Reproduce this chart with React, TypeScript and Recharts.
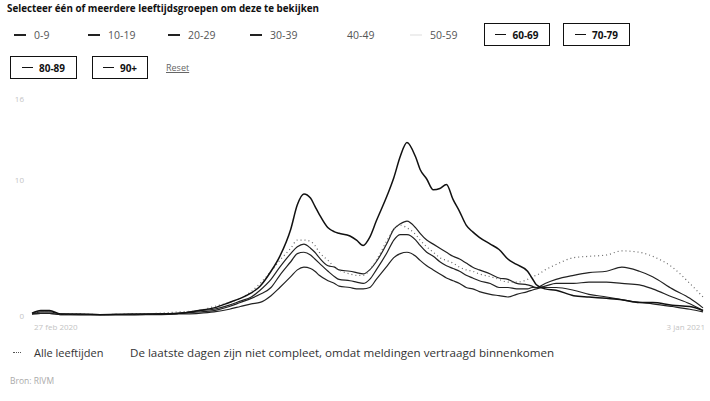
import React from 'react';
import { LineChart, Line, XAxis, YAxis } from 'recharts';

// dagen sinds begin van de reeks
const days = [0, 4, 8, 13, 22, 31, 45, 58, 67, 76, 83, 90, 95, 100, 104, 109, 113, 118, 121, 124, 127, 129, 131, 135, 138, 140, 145, 148, 151, 154, 157, 162, 165, 168, 171, 175, 177, 180, 183, 186, 189, 192, 195, 198, 201, 204, 209, 213, 217, 221, 226, 228, 230, 234, 239, 247, 254, 262, 269, 277, 283, 292, 300, 306];

const age90 = [0.2, 0.4, 0.4, 0.15, 0.15, 0.1, 0.15, 0.15, 0.2, 0.4, 0.6, 1.0, 1.3, 1.7, 2.2, 3.3, 4.4, 6.4, 8.2, 9.0, 8.7, 8.1, 7.5, 6.5, 6.2, 6.1, 5.9, 5.6, 5.2, 5.8, 7.0, 8.9, 10.2, 11.8, 12.8, 11.7, 10.8, 10.1, 9.3, 9.4, 9.7, 8.6, 7.7, 6.7, 6.2, 5.8, 5.3, 4.9, 4.2, 3.8, 3.3, 2.8, 2.3, 2.0, 1.9, 1.5, 1.4, 1.3, 1.2, 1.0, 1.0, 0.8, 0.7, 0.4];
const allAges = [0.2, 0.3, 0.3, 0.15, 0.15, 0.1, 0.15, 0.2, 0.3, 0.4, 0.7, 1.0, 1.3, 1.8, 2.4, 3.3, 4.1, 5.0, 5.6, 5.6, 5.5, 5.2, 4.7, 4.1, 3.6, 3.4, 3.1, 3.0, 3.0, 3.4, 4.1, 5.6, 6.4, 6.7, 6.5, 6.0, 5.6, 5.1, 4.7, 4.3, 4.1, 3.9, 3.6, 3.4, 3.3, 3.1, 2.9, 2.7, 2.5, 2.5, 2.7, 2.9, 3.0, 3.4, 3.8, 4.3, 4.4, 4.5, 4.8, 4.7, 4.4, 3.6, 2.4, 1.4];
const age80 = [0.15, 0.3, 0.3, 0.15, 0.1, 0.1, 0.1, 0.15, 0.2, 0.4, 0.5, 0.8, 1.1, 1.4, 1.9, 2.7, 3.6, 4.6, 5.1, 5.3, 5.0, 4.7, 4.3, 3.7, 3.6, 3.4, 3.3, 3.2, 3.1, 3.4, 4.0, 5.4, 6.4, 6.8, 7.0, 6.5, 6.1, 5.6, 5.3, 5.0, 4.7, 4.4, 4.2, 3.9, 3.6, 3.4, 3.1, 2.8, 2.7, 2.4, 2.3, 2.2, 2.1, 2.4, 2.7, 3.0, 3.2, 3.3, 3.6, 3.3, 2.9, 2.0, 1.3, 0.6];
const age70 = [0.15, 0.2, 0.2, 0.1, 0.1, 0.1, 0.1, 0.15, 0.2, 0.3, 0.4, 0.7, 1.0, 1.3, 1.6, 2.1, 3.0, 4.0, 4.6, 4.7, 4.5, 4.2, 3.9, 3.3, 2.9, 2.7, 2.6, 2.5, 2.4, 2.7, 3.4, 4.7, 5.6, 6.0, 6.0, 5.6, 5.2, 4.7, 4.4, 4.0, 3.7, 3.5, 3.3, 3.0, 2.8, 2.6, 2.4, 2.1, 2.1, 2.0, 2.0, 2.1, 2.1, 2.2, 2.4, 2.4, 2.5, 2.5, 2.4, 2.3, 2.0, 1.4, 0.9, 0.4];
const age60 = [0.15, 0.2, 0.2, 0.1, 0.1, 0.1, 0.1, 0.1, 0.15, 0.2, 0.3, 0.5, 0.7, 0.9, 1.0, 1.5, 2.1, 2.9, 3.4, 3.6, 3.5, 3.3, 3.0, 2.6, 2.4, 2.2, 2.1, 2.0, 2.0, 2.1, 2.7, 3.7, 4.3, 4.6, 4.7, 4.4, 4.1, 3.7, 3.4, 3.1, 2.8, 2.6, 2.4, 2.1, 2.0, 1.8, 1.6, 1.5, 1.4, 1.6, 1.8, 1.9, 2.0, 2.1, 2.1, 1.9, 1.6, 1.4, 1.2, 1.0, 0.9, 0.7, 0.5, 0.3];

const yTicks = [0, 10, 16];
const xTicks = [0, 306];
const xTickLabels = ['27 feb 2020', '3 jan 2021'];

const data = days.map((d, i) => ({
  day: d,
  a90: age90[i],
  all: allAges[i],
  a80: age80[i],
  a70: age70[i],
  a60: age60[i],
}));

const font = '"Open Sans", "Noto Sans", sans-serif';

function XTick(props: any) {
  const { x, y, payload, index } = props;
  const first = index === 0;
  return (
    <text x={x + 2} y={y + 6} textAnchor={first ? 'start' : 'end'} fill="#c4c4c4" fontSize={8} fontFamily={font}>
      {xTickLabels[xTicks.indexOf(payload.value)]}
    </text>
  );
}

const plain = (label: string, left: number, dash: string) => (
  <div style={{ position: 'absolute', left, top: 26, height: 18, display: 'flex', alignItems: 'center', fontSize: 10.5, color: '#555' }}>
    <span style={{ display: 'inline-block', width: 12, height: 2, background: dash, marginRight: 8 }} />
    {label}
  </div>
);

const boxed = (label: string, left: number, top: number, width: number) => (
  <div style={{ position: 'absolute', left, top, width, height: 23, boxSizing: 'border-box', border: '1.5px solid #111', display: 'flex', alignItems: 'center', justifyContent: 'center', fontSize: 10, fontWeight: 700, color: '#111' }}>
    <span style={{ display: 'inline-block', width: 11, height: 1.5, background: '#111', marginRight: 6 }} />
    {label}
  </div>
);

export default function App() {
  return (
    <div style={{ position: 'absolute', left: 0, top: 0, width: 710, height: 401, background: '#fff', fontFamily: font }}>
      <div style={{ position: 'absolute', left: 7, top: 2, fontSize: 9.8, fontWeight: 700, color: '#111' }}>
        Selecteer één of meerdere leeftijdsgroepen om deze te bekijken
      </div>

      {plain('0-9', 14, '#222')}
      {plain('10-19', 88, '#222')}
      {plain('20-29', 168, '#222')}
      {plain('30-39', 250, '#222')}
      {plain('40-49', 327, '#fff')}
      {plain('50-59', 410, '#eee')}
      {boxed('60-69', 484, 23, 66)}
      {boxed('70-79', 563, 23, 67)}
      {boxed('80-89', 10, 56, 67)}
      {boxed('90+', 92, 56, 56)}
      <div style={{ position: 'absolute', left: 166, top: 61, fontSize: 9, color: '#666', textDecoration: 'underline' }}>Reset</div>

      <div style={{ position: 'absolute', left: 0, top: 90 }}>
        <LineChart width={710} height={250} data={data} margin={{ top: 9, right: 7, bottom: 4, left: 0 }}>
          <XAxis dataKey="day" type="number" domain={[0, 306]} ticks={xTicks} height={20} axisLine={false} tickLine={false} tick={<XTick />} interval={0} />
          <YAxis domain={[0, 16]} ticks={yTicks} width={32} axisLine={false} tickLine={false} tick={{ fill: '#c4c4c4', fontSize: 8, fontFamily: font }} />
          <Line type="monotone" dataKey="a60" stroke="#222" strokeWidth={1.2} dot={false} isAnimationActive={false} />
          <Line type="monotone" dataKey="a70" stroke="#222" strokeWidth={1.2} dot={false} isAnimationActive={false} />
          <Line type="monotone" dataKey="a80" stroke="#222" strokeWidth={1.2} dot={false} isAnimationActive={false} />
          <Line type="monotone" dataKey="all" stroke="#666" strokeWidth={1.2} strokeDasharray="1 3" dot={false} isAnimationActive={false} />
          <Line type="monotone" dataKey="a90" stroke="#111" strokeWidth={1.5} dot={false} isAnimationActive={false} />
        </LineChart>
      </div>

      <div style={{ position: 'absolute', left: 13, top: 345, fontSize: 11, color: '#333', display: 'flex', alignItems: 'center' }}>
        <span style={{ display: 'inline-block', width: 8, height: 0, borderTop: '1.5px dotted #555', marginRight: 13 }} />
        Alle leeftijden
      </div>
      <div style={{ position: 'absolute', left: 130, top: 345, fontSize: 11.6, color: '#333' }}>
        De laatste dagen zijn niet compleet, omdat meldingen vertraagd binnenkomen
      </div>
      <div style={{ position: 'absolute', left: 10, top: 375, fontSize: 8.5, color: '#aaa' }}>Bron: RIVM</div>
    </div>
  );
}
